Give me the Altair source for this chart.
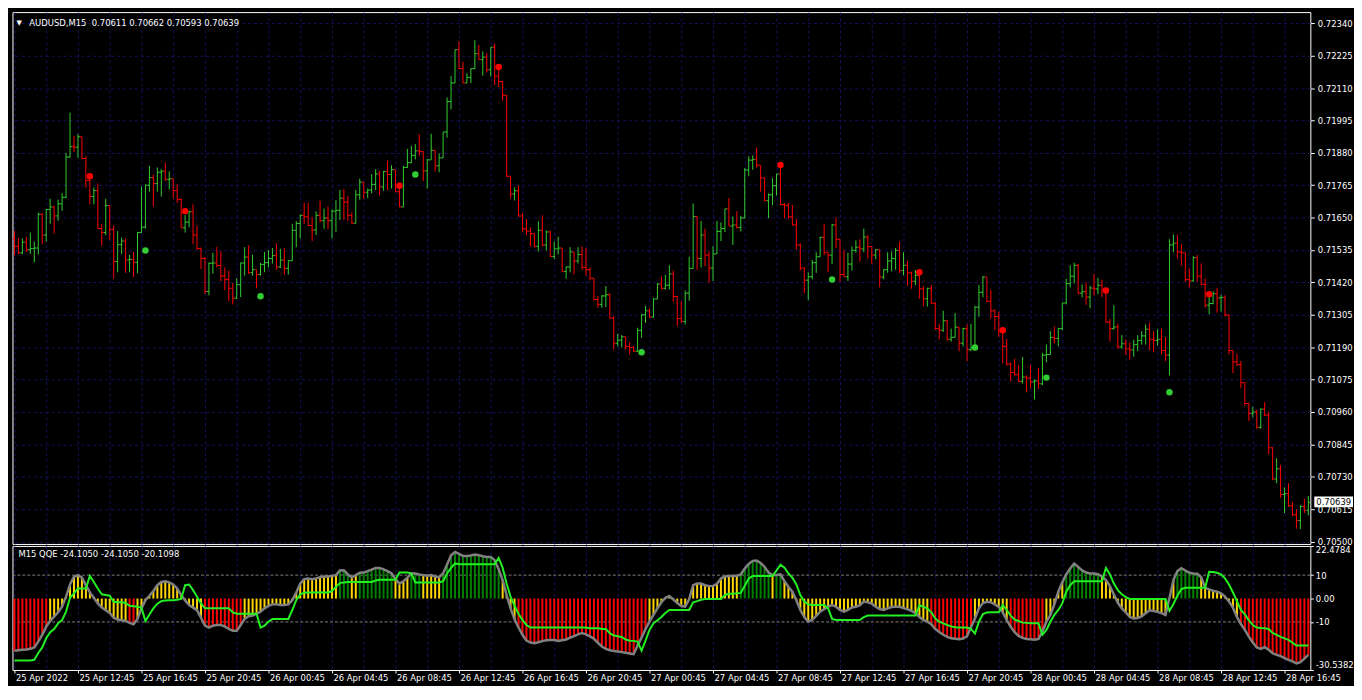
import altair as alt
import pandas as pd

# ---------------- data ----------------
time_labels = ["25 Apr 2022", "25 Apr 12:45", "25 Apr 16:45", "25 Apr 20:45",
               "26 Apr 00:45", "26 Apr 04:45", "26 Apr 08:45", "26 Apr 12:45",
               "26 Apr 16:45", "26 Apr 20:45", "27 Apr 00:45", "27 Apr 04:45",
               "27 Apr 08:45", "27 Apr 12:45", "27 Apr 16:45", "27 Apr 20:45",
               "28 Apr 00:45", "28 Apr 04:45", "28 Apr 08:45", "28 Apr 12:45",
               "28 Apr 16:45"]

price_ticks = [0.70500, 0.70615, 0.70730, 0.70845, 0.70960, 0.71075, 0.71190,
               0.71305, 0.71420, 0.71535, 0.71650, 0.71765, 0.71880, 0.71995,
               0.72110, 0.72225, 0.72340]

qqe_ticks = [22.4784, 10, 0, -10, -30.5382]
qqe_tick_text = ["22.4784", "10", "0.00", "-10", "-30.5382"]
qqe_levels = [10, -10]

symbol_title = "AUDUSD,M15\u00a0 0.70611 0.70662 0.70593 0.70639"
indicator_title = "M15 QQE -24.1050 -24.1050 -20.1098"
last_price = 0.70639
last_price_text = "0.70639"

# prices in points (x 1e-5)
first_open = 71575
bar_high = [
    71603, 71579, 71576, 71582, 71597, 71565, 71668, 71666, 71680, 71717,
    71691, 71714, 71737, 71880, 72023, 71940, 71947, 71931, 71868, 71794,
    71757, 71771, 71628, 71717, 71693, 71622, 71602, 71579, 71576, 71518,
    71528, 71599, 71760, 71768, 71834, 71803, 71828, 71822, 71845, 71814,
    71788, 71769, 71719, 71659, 71674, 71697, 71622, 71544, 71510, 71491,
    71525, 71546, 71531, 71473, 71462, 71418, 71435, 71490, 71545, 71552,
    71518, 71465, 71489, 71528, 71535, 71542, 71559, 71539, 71542, 71499,
    71628, 71637, 71661, 71703, 71702, 71653, 71672, 71710, 71682, 71690,
    71679, 71712, 71748, 71751, 71727, 71669, 71748, 71788, 71777, 71753,
    71805, 71822, 71816, 71816, 71853, 71836, 71813, 71757, 71834, 71894,
    71905, 71911, 71946, 71885, 71858, 71948, 71889, 71878, 71954, 72077,
    72152, 72246, 72276, 72203, 72162, 72180, 72280, 72263, 72240, 72234,
    72255, 72268, 72183, 72135, 72085, 71797, 71757, 71764, 71665, 71645,
    71616, 71593, 71637, 71658, 71605, 71604, 71565, 71582, 71542, 71476,
    71545, 71528, 71545, 71548, 71542, 71473, 71435, 71372, 71375, 71407,
    71382, 71301, 71238, 71233, 71227, 71208, 71193, 71259, 71307, 71336,
    71327, 71364, 71418, 71441, 71447, 71481, 71462, 71373, 71353, 71391,
    71511, 71700, 71654, 71638, 71611, 71530, 71548, 71638, 71633, 71681,
    71719, 71654, 71673, 71656, 71826, 71868, 71871, 71899, 71836, 71791,
    71736, 71790, 71805, 71828, 71702, 71702, 71695, 71645, 71559, 71473,
    71456, 71500, 71527, 71582, 71628, 71527, 71628, 71651, 71573, 71536,
    71525, 71548, 71569, 71573, 71611, 71588, 71547, 71538, 71536, 71467,
    71527, 71530, 71542, 71565, 71527, 71496, 71458, 71464, 71445, 71407,
    71401, 71410, 71350, 71273, 71319, 71287, 71256, 71311, 71233, 71259,
    71271, 71273, 71336, 71410, 71442, 71439, 71393, 71324, 71316, 71247,
    71219, 71136, 71149, 71126, 71155, 71090, 71126, 71076, 71115, 71170,
    71199, 71247, 71264, 71259, 71347, 71433, 71481, 71490, 71485, 71413,
    71420, 71408, 71450, 71436, 71430, 71393, 71290, 71339, 71273, 71233,
    71218, 71207, 71216, 71233, 71247, 71271, 71277, 71247, 71254, 71256,
    71225, 71573, 71590, 71590, 71556, 71517, 71470, 71513, 71517, 71487,
    71433, 71376, 71388, 71401, 71376, 71374, 71307, 71178, 71167, 71141,
    71064, 70993, 70978, 70968, 70972, 70995, 70961, 70835, 70796, 70772,
    70692, 70707, 70640, 70615, 70629, 70652, 70662]

bar_low = [
    71517, 71521, 71521, 71528, 71521, 71491, 71519, 71556, 71565, 71628,
    71594, 71639, 71674, 71719, 71862, 71883, 71862, 71859, 71757, 71697,
    71697, 71611, 71550, 71588, 71571, 71433, 71456, 71521, 71454, 71456,
    71439, 71453, 71596, 71611, 71742, 71689, 71742, 71725, 71780, 71750,
    71717, 71702, 71613, 71597, 71616, 71556, 71536, 71468, 71380, 71374,
    71451, 71473, 71425, 71393, 71353, 71342, 71361, 71368, 71444, 71450,
    71444, 71399, 71444, 71456, 71473, 71487, 71465, 71471, 71447, 71448,
    71496, 71545, 71576, 71628, 71622, 71567, 71588, 71633, 71610, 71610,
    71576, 71599, 71642, 71642, 71638, 71628, 71630, 71713, 71717, 71719,
    71736, 71748, 71729, 71745, 71748, 71753, 71742, 71688, 71688, 71826,
    71843, 71856, 71868, 71780, 71753, 71856, 71814, 71811, 71862, 71934,
    72034, 72128, 72179, 72128, 72128, 72128, 72177, 72211, 72154, 72165,
    72151, 72120, 72114, 72065, 71794, 71719, 71711, 71654, 71599, 71588,
    71548, 71544, 71530, 71548, 71533, 71510, 71502, 71519, 71457, 71433,
    71456, 71448, 71487, 71465, 71444, 71427, 71355, 71330, 71330, 71333,
    71292, 71181, 71193, 71189, 71181, 71164, 71173, 71173, 71224, 71276,
    71295, 71295, 71361, 71395, 71395, 71395, 71351, 71265, 71276, 71271,
    71355, 71473, 71464, 71473, 71477, 71419, 71425, 71525, 71567, 71599,
    71620, 71553, 71611, 71601, 71647, 71797, 71820, 71828, 71742, 71708,
    71648, 71694, 71728, 71694, 71648, 71645, 71622, 71536, 71462, 71382,
    71357, 71431, 71454, 71511, 71517, 71456, 71485, 71542, 71422, 71441,
    71425, 71462, 71525, 71494, 71527, 71505, 71485, 71502, 71402, 71431,
    71454, 71459, 71465, 71454, 71445, 71408, 71397, 71410, 71362, 71336,
    71334, 71344, 71252, 71218, 71244, 71213, 71210, 71225, 71176, 71193,
    71141, 71176, 71244, 71298, 71367, 71351, 71292, 71250, 71227, 71133,
    71124, 71069, 71090, 71067, 71061, 71030, 71044, 71004, 71042, 71055,
    71136, 71176, 71204, 71193, 71250, 71342, 71402, 71416, 71378, 71367,
    71340, 71328, 71374, 71378, 71368, 71277, 71210, 71252, 71184, 71184,
    71162, 71145, 71156, 71176, 71199, 71199, 71179, 71172, 71196, 71164,
    71141, 71090, 71527, 71505, 71479, 71422, 71402, 71422, 71422, 71410,
    71330, 71307, 71342, 71313, 71317, 71299, 71164, 71098, 71124, 71044,
    70981, 70928, 70941, 70901, 70901, 70945, 70810, 70718, 70707, 70655,
    70601, 70624, 70590, 70546, 70544, 70601, 70593]

bar_close = [
    71548, 71525, 71563, 71536, 71540, 71542, 71662, 71588, 71679, 71688,
    71656, 71699, 71722, 71865, 71902, 71900, 71937, 71860, 71782, 71725,
    71746, 71611, 71597, 71693, 71608, 71494, 71554, 71567, 71500, 71502,
    71491, 71597, 71616, 71765, 71792, 71771, 71811, 71815, 71785, 71788,
    71746, 71714, 71614, 71634, 71671, 71588, 71540, 71505, 71388, 71488,
    71489, 71480, 71443, 71430, 71399, 71364, 71412, 71489, 71510, 71455,
    71465, 71448, 71484, 71490, 71505, 71515, 71475, 71499, 71470, 71497,
    71605, 71629, 71658, 71653, 71622, 71606, 71658, 71639, 71649, 71639,
    71673, 71676, 71719, 71705, 71658, 71630, 71731, 71776, 71740, 71748,
    71768, 71805, 71759, 71814, 71803, 71820, 71742, 71688, 71828, 71845,
    71871, 71887, 71885, 71816, 71855, 71889, 71834, 71862, 71954, 72062,
    72128, 72246, 72179, 72128, 72148, 72179, 72232, 72211, 72220, 72175,
    72255, 72152, 72133, 72084, 71797, 71734, 71745, 71656, 71610, 71602,
    71593, 71548, 71605, 71553, 71599, 71512, 71539, 71542, 71459, 71475,
    71528, 71496, 71519, 71473, 71465, 71435, 71359, 71342, 71372, 71376,
    71293, 71204, 71215, 71227, 71193, 71189, 71176, 71250, 71305, 71319,
    71297, 71361, 71414, 71399, 71410, 71450, 71370, 71292, 71281, 71382,
    71470, 71654, 71505, 71588, 71517, 71471, 71521, 71601, 71611, 71681,
    71620, 71624, 71615, 71649, 71819, 71854, 71857, 71836, 71791, 71710,
    71731, 71763, 71805, 71696, 71694, 71653, 71624, 71553, 71471, 71428,
    71440, 71490, 71511, 71580, 71527, 71517, 71624, 71573, 71448, 71440,
    71485, 71534, 71545, 71539, 71581, 71547, 71517, 71536, 71439, 71465,
    71496, 71505, 71534, 71462, 71481, 71454, 71424, 71445, 71397, 71362,
    71399, 71346, 71256, 71250, 71284, 71218, 71225, 71261, 71204, 71256,
    71181, 71187, 71332, 71385, 71439, 71353, 71319, 71299, 71247, 71193,
    71130, 71100, 71092, 71069, 71084, 71081, 71067, 71070, 71060, 71162,
    71164, 71225, 71221, 71256, 71347, 71416, 71442, 71481, 71382, 71387,
    71368, 71400, 71397, 71410, 71393, 71279, 71256, 71262, 71191, 71202,
    71184, 71180, 71199, 71214, 71230, 71254, 71218, 71214, 71218, 71178,
    71162, 71553, 71559, 71528, 71525, 71430, 71425, 71508, 71442, 71413,
    71339, 71345, 71380, 71365, 71367, 71304, 71178, 71138, 71128, 71064,
    70990, 70955, 70960, 70905, 70970, 70949, 70833, 70722, 70758, 70667,
    70670, 70627, 70595, 70575, 70624, 70611, 70639]

sell_idx = [19, 43, 97, 122, 193, 228, 249, 275, 301]
sell_px = [71797, 71673, 71763, 72185, 71837, 71456, 71250, 71391, 71378]
buy_idx = [33, 62, 101, 158, 206, 242, 260, 291]
buy_px = [71533, 71371, 71803, 71172, 71430, 71189, 71082, 71030]

qqe_main = [
    -22.3, -22.1, -21.9, -21.8, -21.5, -20.9, -18.4, -15.5, -12.0, -9.6,
    -7.7, -5.9, -3.5, 0.8, 6.0, 9.3, 10.0, 8.9, 5.7, 2.6,
    0.3, -2.1, -3.9, -5.0, -6.2, -8.2, -9.0, -9.3, -9.6, -10.4,
    -11.0, -8.7, -4.2, -0.7, 1.2, 3.2, 5.7, 7.1, 7.4, 6.9,
    6.0, 4.3, 1.5, -0.8, -2.8, -3.9, -5.0, -8.2, -11.6, -12.4,
    -11.6, -11.3, -11.3, -11.9, -13.0, -13.8, -13.8, -11.3, -8.7, -7.6,
    -7.3, -6.5, -5.6, -4.2, -3.1, -2.5, -2.5, -2.8, -2.8, -2.5,
    -0.7, 2.6, 6.4, 8.3, 8.6, 8.3, 8.6, 9.1, 9.4, 9.4,
    9.6, 10.0, 12.0, 12.1, 10.3, 9.1, 10.0, 11.0, 11.1, 11.7,
    12.4, 13.1, 13.1, 12.5, 11.7, 10.8, 8.3, 6.4, 7.4, 8.9,
    10.8, 10.7, 10.3, 10.0, 9.7, 10.0, 9.4, 9.1, 10.7, 14.5,
    18.5, 19.9, 19.1, 18.2, 18.2, 18.4, 18.8, 18.5, 18.1, 17.8,
    17.8, 16.4, 12.5, 7.9, 1.5, -4.2, -8.9, -12.4, -15.5, -18.0,
    -18.8, -19.1, -18.7, -18.2, -17.8, -17.7, -17.7, -18.1, -17.8, -17.5,
    -16.7, -16.1, -15.3, -14.8, -15.3, -16.2, -17.2, -18.9, -20.5, -21.5,
    -22.1, -22.4, -22.6, -22.9, -23.2, -23.5, -23.8, -20.1, -16.7, -13.0,
    -9.9, -7.0, -4.2, -1.6, 0.3, 1.1, -0.4, -1.9, -3.2, -3.5,
    -0.2, 5.7, 6.4, 6.4, 5.7, 5.3, 5.3, 6.3, 8.6, 9.4,
    9.6, 9.6, 9.7, 10.3, 12.8, 14.8, 16.1, 16.2, 15.2, 13.5,
    11.1, 10.0, 10.1, 10.3, 7.4, 5.0, 2.9, -0.7, -4.9, -7.9,
    -9.9, -9.1, -7.4, -5.6, -4.6, -3.5, -2.8, -3.5, -4.9, -5.6,
    -4.9, -3.8, -3.5, -2.8, -1.3, -1.6, -2.2, -3.5, -4.5, -4.9,
    -4.2, -3.6, -3.5, -3.5, -4.1, -4.6, -5.3, -6.3, -7.9, -9.1,
    -9.9, -11.0, -13.0, -14.3, -15.5, -16.4, -17.0, -17.2, -17.4, -17.1,
    -16.1, -12.3, -8.5, -4.2, -1.9, -1.4, -1.6, -2.5, -3.6, -5.9,
    -9.1, -12.1, -14.4, -16.0, -16.8, -17.3, -17.4, -17.6, -17.3, -14.1,
    -9.9, -7.0, -2.5, 2.9, 6.9, 10.3, 12.8, 15.0, 13.5, 12.0,
    11.1, 10.7, 10.7, 10.4, 9.4, 7.9, 5.3, 1.7, -1.8, -4.2,
    -5.9, -7.9, -8.5, -8.3, -7.6, -6.3, -5.0, -5.3, -5.7, -6.2,
    -7.0, 0.1, 7.9, 11.7, 13.0, 12.0, 11.0, 10.7, 10.6, 9.1,
    4.6, 3.9, 3.3, 2.9, 2.2, 0.8, -1.3, -3.9, -7.9, -10.9,
    -13.4, -16.3, -18.8, -20.9, -21.5, -20.8, -21.9, -23.4, -24.1, -24.6,
    -25.5, -26.2, -26.9, -27.7, -27.2, -25.7, -24.105]

qqe_trail = [
    -26.5, -26.5, -26.5, -26.5, -26.5, -26.2, -23.3, -20.9, -17.0, -14.4,
    -13.0, -10.6, -9.2, -5.6, 0.3, 2.2, 4.3, 4.3, 4.3, 9.7,
    7.1, 4.3, 1.8, 1.5, 1.2, -1.4, -1.6, -1.6, -1.9, -3.1,
    -3.3, -3.5, -3.9, -9.6, -6.8, -4.2, -2.2, -1.1, -0.8, -0.7,
    -0.7, -0.5, -0.2, 5.7, 6.0, 3.6, 0.8, -2.1, -4.2, -4.2,
    -4.2, -4.2, -4.2, -4.2, -4.2, -5.9, -6.5, -6.5, -6.5, -6.5,
    -6.5, -6.5, -12.4, -11.6, -9.9, -8.7, -8.7, -8.7, -8.7, -8.7,
    -4.9, -0.7, 1.8, 2.5, 2.6, 2.6, 2.6, 2.6, 2.6, 2.6,
    3.2, 5.0, 6.6, 6.9, 7.1, 7.1, 7.1, 7.1, 7.1, 7.1,
    7.1, 7.7, 8.0, 8.0, 8.0, 8.0, 8.0, 11.1, 11.1, 11.1,
    10.7, 6.9, 6.9, 6.9, 6.9, 6.9, 6.9, 6.9, 7.4, 10.7,
    13.1, 15.0, 14.7, 14.7, 14.7, 14.7, 14.7, 14.7, 14.7, 14.7,
    14.7, 14.7, 17.4, 13.1, 6.4, 0.8, -3.1, -6.5, -9.2, -11.3,
    -12.4, -12.4, -12.4, -12.4, -12.4, -12.4, -12.4, -12.4, -12.4, -12.4,
    -12.4, -12.4, -12.4, -12.4, -12.4, -12.7, -12.7, -12.7, -13.0, -13.0,
    -14.8, -15.8, -16.1, -16.4, -17.5, -18.0, -18.1, -18.4, -22.3, -18.0,
    -13.4, -10.6, -9.3, -7.9, -6.2, -4.9, -4.9, -4.9, -4.9, -4.9,
    -4.9, -1.6, -1.1, -0.5, -0.2, -0.2, -0.2, -0.2, -0.2, 1.5,
    2.0, 2.0, 2.2, 2.4, 5.4, 8.6, 9.6, 9.6, 9.6, 9.6,
    9.6, 9.6, 12.0, 14.5, 13.2, 10.7, 8.9, 6.0, 1.5, -1.3,
    -2.5, -2.8, -2.8, -2.8, -2.8, -4.2, -8.7, -9.2, -9.2, -9.2,
    -9.2, -9.2, -9.2, -9.2, -7.9, -7.3, -7.3, -7.3, -7.3, -7.3,
    -7.3, -7.3, -7.3, -7.3, -7.3, -7.3, -7.3, -7.3, -2.9, -3.5,
    -4.2, -5.9, -8.5, -9.9, -10.6, -11.3, -11.9, -12.3, -12.4, -12.4,
    -12.4, -13.0, -15.0, -9.9, -6.6, -6.0, -5.9, -5.9, -5.9, -2.8,
    -4.9, -7.3, -9.0, -9.6, -10.3, -10.4, -10.6, -10.6, -10.6, -15.5,
    -13.4, -9.9, -7.0, -4.9, -2.1, 2.9, 5.7, 7.4, 7.4, 7.4,
    7.4, 7.4, 7.4, 7.4, 7.4, 13.1, 10.3, 6.4, 3.6, 1.8,
    0.6, -0.2, -0.2, -0.2, -0.2, -0.2, -0.2, -0.2, -0.2, -0.2,
    -0.2, -5.3, -2.3, 1.2, 4.0, 4.6, 4.6, 4.6, 4.6, 4.6,
    4.6, 11.4, 11.3, 11.0, 10.3, 8.6, 6.0, 2.6, -1.1, -4.9,
    -6.8, -9.3, -11.3, -12.4, -12.6, -12.7, -13.0, -14.7, -15.5, -16.4,
    -17.0, -17.7, -18.9, -20.1, -20.1, -20.1, -20.1098]

# ---------------- styles ----------------
FONT = "DejaVu Sans"
FS = 8.5
UP = "#32CD32"
DOWN = "#FF0000"
GRID = "#12125e"
HIST_HI = "#008000"
HIST_MID = "#FFD700"
HIST_LO = "#FF0000"
QQE_GRAY = "#808080"
QQE_LIME = "#22f022"

W = 1308
H1 = 536
H2 = 125

# ---------------- tables ----------------
n = len(bar_close)
opens = [first_open] + bar_close[:-1]
rows = []
for i in range(n):
    o, c = opens[i], bar_close[i]
    h = max(bar_high[i], o, c)
    lo = min(bar_low[i], o, c)
    rows.append(dict(i=i, o=o / 1e5, h=h / 1e5, l=lo / 1e5, c=c / 1e5,
                     d="up" if c >= o else "down"))
bars = pd.DataFrame(rows)

sells = pd.DataFrame({"i": sell_idx, "p": [v / 1e5 for v in sell_px]})
buys = pd.DataFrame({"i": buy_idx, "p": [v / 1e5 for v in buy_px]})


def zone(v):
    if v > 10:
        return "hi"
    if v < -10:
        return "lo"
    return "mid"


ind = pd.DataFrame({"i": list(range(n)), "v": qqe_main, "t": qqe_trail,
                    "zero": [0] * n, "z": [zone(v) for v in qqe_main]})

# ---------------- scales / axes ----------------
xscale = alt.Scale(domain=[-0.5, n - 0.5], nice=False, zero=False)
grid_vals = list(range(0, n, 8))

xaxis_main = alt.Axis(values=grid_vals, grid=True, labels=False, ticks=False,
                      domain=False, title=None)

names_js = "[" + ",".join("'%s'" % s for s in time_labels) + "]"
xaxis_ind = alt.Axis(values=grid_vals, grid=True, domain=False, title=None,
                     labelExpr="datum.value % 16 == 0 ? " + names_js + "[datum.value / 16] : ''",
                     tickSize=3,
                     tickOpacity={"condition": {"test": "datum.value % 16 == 0", "value": 1}, "value": 0},
                     labelPadding=1, labelAlign="left", labelBaseline="top",
                     labelFlush=False, labelOverlap=False, labelOffset=1)

yscale = alt.Scale(domain=[0.704914, 0.723796], nice=False, zero=False)
yaxis = alt.Axis(orient="right", values=price_ticks, format=".5f", grid=True,
                 tickSize=4, labelPadding=3, labelOverlap=False, labelFlush=False,
                 domain=False, title=None)

yscale_i = alt.Scale(domain=[qqe_ticks[-1], qqe_ticks[0]], nice=False, zero=False)
vals_js = "[" + ",".join(str(v) for v in qqe_ticks) + "]"
txt_js = "[" + ",".join("'%s'" % s for s in qqe_tick_text) + "]"
yaxis_i = alt.Axis(orient="right", values=qqe_ticks, grid=False,
                   labelExpr=txt_js + "[indexof(" + vals_js + ", datum.value)]",
                   tickSize=3, labelPadding=2, labelFlush=True, labelOverlap=False,
                   domain=False, title=None)


def XM(f):
    return alt.X(f + ":Q", scale=xscale, axis=xaxis_main, title=None)


def YM(f):
    return alt.Y(f + ":Q", scale=yscale, axis=yaxis, title=None)


def XI(f):
    return alt.X(f + ":Q", scale=xscale, axis=xaxis_ind, title=None)


def YI(f):
    return alt.Y(f + ":Q", scale=yscale_i, axis=yaxis_i, title=None)


bar_color = alt.Color("d:N", scale=alt.Scale(domain=["up", "down"], range=[UP, DOWN]), legend=None)

# ---------------- main price panel ----------------
base = alt.Chart(bars)
wicks = base.mark_rule(strokeWidth=1).encode(x=XM("i"), y=YM("l"), y2="h", color=bar_color)
open_t = base.mark_rule(strokeWidth=1, xOffset=-2, x2Offset=0).encode(
    x=XM("i"), x2="i", y=YM("o"), color=bar_color)
close_t = base.mark_rule(strokeWidth=1, xOffset=0, x2Offset=2).encode(
    x=XM("i"), x2="i", y=YM("c"), color=bar_color)

sell_dots = alt.Chart(sells).mark_circle(size=42, opacity=1, color=DOWN).encode(x=XM("i"), y=YM("p"))
buy_dots = alt.Chart(buys).mark_circle(size=42, opacity=1, color=UP).encode(x=XM("i"), y=YM("p"))

title_df = pd.DataFrame({"s": [symbol_title]})
tri = alt.Chart(title_df).mark_text(text="\u25bc", color="white", font=FONT, fontSize=7,
                                    align="left", baseline="middle").encode(
    x=alt.value(4), y=alt.value(11))
title_txt = alt.Chart(title_df).mark_text(color="white", font=FONT, fontSize=FS,
                                          align="left", baseline="middle").encode(
    x=alt.value(17), y=alt.value(11), text="s:N")

lp_df = pd.DataFrame({"p": [last_price], "s": [last_price_text]})
lp_box = alt.Chart(lp_df).mark_rect(color="white", yOffset=-6, y2Offset=5).encode(
    x=alt.value(W + 4), x2=alt.value(W + 43), y=YM("p"), y2="p")
lp_txt = alt.Chart(lp_df).mark_text(color="black", font=FONT, fontSize=FS,
                                    align="left", baseline="middle").encode(
    x=alt.value(W + 6), y=YM("p"), text="s:N")

main = alt.layer(wicks, open_t, close_t, sell_dots, buy_dots, tri, title_txt,
                 lp_box, lp_txt).properties(width=W, height=H1)

# ---------------- QQE panel ----------------
lv = alt.Chart(pd.DataFrame({"lv": qqe_levels})).mark_rule(
    color=QQE_GRAY, strokeDash=[3, 2], strokeWidth=1).encode(y=YI("lv"))
hist = alt.Chart(ind).mark_rule(strokeWidth=2).encode(
    x=XI("i"), y=YI("v"), y2="zero",
    color=alt.Color("z:N", scale=alt.Scale(domain=["hi", "mid", "lo"],
                                           range=[HIST_HI, HIST_MID, HIST_LO]), legend=None))
gray_line = alt.Chart(ind).mark_line(color=QQE_GRAY, strokeWidth=2.5).encode(x=XI("i"), y=YI("v"))
lime_line = alt.Chart(ind).mark_line(color=QQE_LIME, strokeWidth=2).encode(x=XI("i"), y=YI("t"))
ind_title = alt.Chart(pd.DataFrame({"s": [indicator_title]})).mark_text(
    color="white", font=FONT, fontSize=FS, align="left", baseline="middle").encode(
    x=alt.value(6), y=alt.value(8), text="s:N")

qqe = alt.layer(lv, hist, gray_line, lime_line, ind_title).properties(width=W, height=H2)

chart = alt.vconcat(main, qqe, spacing=2, bounds="flush").resolve_scale(
    color="independent"
).properties(
    padding={"left": 0.5, "top": 0.5, "right": 0, "bottom": 0}
).configure(background="black").configure_view(
    stroke="white", strokeWidth=1
).configure_axis(
    labelFont=FONT, labelFontSize=FS, labelColor="white", tickColor="white",
    gridColor=GRID, gridDash=[3, 3], gridWidth=1
)

chart.save("out.html", embed_options={"renderer": "svg", "actions": False})
